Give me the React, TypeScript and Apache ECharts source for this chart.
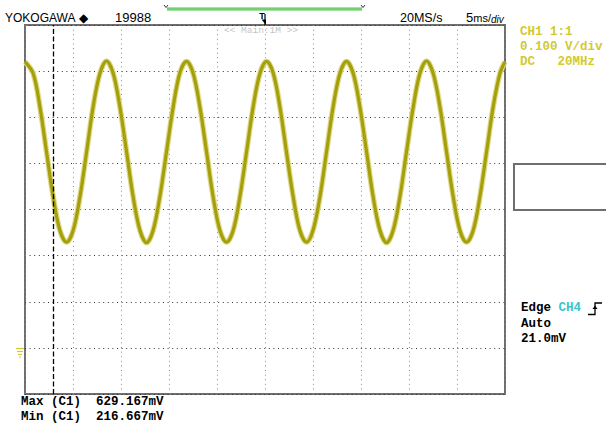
import React, { useEffect, useRef } from "react";
import * as echarts from "echarts";

// Time (ms from left edge of screen) and CH1 voltage (V)
const timeMs = [
  0.0, 0.85, 1.55, 2.24, 2.94, 3.63, 4.33, 5.02, 5.72, 6.41, 7.1, 7.8,
  8.49, 9.19, 9.88, 10.58, 11.27, 11.97, 12.66, 13.35, 14.05, 14.74, 15.44, 16.13,
  16.83, 17.52, 18.22, 18.91, 19.6, 20.3, 20.99, 21.69, 22.38, 23.08, 23.77, 24.47,
  25.16, 25.85, 26.55, 27.24, 27.94, 28.63, 29.33, 30.02, 30.72, 31.41, 32.1, 32.8,
  33.49, 34.19, 34.88, 35.58, 36.27, 36.97, 37.66, 38.35, 39.05, 39.74, 40.44, 41.13,
  41.83, 42.52, 43.22, 43.91, 44.6, 45.3, 45.99, 46.69, 47.38, 48.08, 48.77, 49.47,
  50.0,
];
const ch1Volts = [
  0.62, 0.595, 0.523, 0.425, 0.327, 0.255, 0.229, 0.255, 0.327, 0.424, 0.523, 0.595,
  0.622, 0.595, 0.523, 0.425, 0.327, 0.255, 0.228, 0.255, 0.328, 0.425, 0.523, 0.596,
  0.621, 0.595, 0.522, 0.425, 0.327, 0.255, 0.229, 0.255, 0.327, 0.425, 0.523, 0.595,
  0.621, 0.596, 0.523, 0.424, 0.327, 0.255, 0.229, 0.256, 0.327, 0.425, 0.523, 0.595,
  0.621, 0.595, 0.523, 0.425, 0.327, 0.255, 0.228, 0.255, 0.327, 0.425, 0.522, 0.595,
  0.622, 0.595, 0.523, 0.425, 0.328, 0.255, 0.229, 0.255, 0.327, 0.425, 0.523, 0.595,
  0.62,
];

const TRIGGER_MS = 2.95;
const X_MIN = 0;
const X_MAX = 50;
const X_DIV = 5;
const Y_MIN = -0.1;
const Y_MAX = 0.7;
const Y_DIV = 0.1;

const headerLabels = { brand: "YOKOGAWA", count: "19988", rate: "20MS/s", zoom: "<< Main:1M >>" };
const ch1Labels = ["CH1 1:1", "0.100 V/div", "DC   20MHz"];
const trigLabels = { mode: "Edge ", src: "CH4", auto: "Auto", level: "21.0mV" };
const measLabels = ["Max (C1)  629.167mV", "Min (C1)  216.667mV"];

const MONO = "'Liberation Mono', 'DejaVu Sans Mono', monospace";
const SANS = "'Liberation Sans', Arial, sans-serif";
const YELLOW = "#d2ca2e";
const TRACE = "#a69f0c";

function txt(x: number, y: number, text: string, font: string, fill: string, align = "left") {
  return {
    type: "text",
    x,
    y,
    silent: true,
    style: {
      text,
      font,
      fill,
      align,
      textAlign: align,
      verticalAlign: "middle",
      textVerticalAlign: "middle",
    },
  };
}

export default function App() {
  const ref = useRef<HTMLDivElement>(null);
  useEffect(() => {
    const chart = echarts.init(ref.current!, null, { renderer: "svg" });
    const data = timeMs.map((t, i) => [t, ch1Volts[i]]);
    const monoBold = `bold 12.5px ${MONO}`;
    chart.setOption({
      animation: false,
      backgroundColor: "#ffffff",
      grid: {
        left: 25,
        top: 25,
        width: 480,
        height: 369,
        show: true,
        borderColor: "#6e6e6e",
        borderWidth: 2,
        backgroundColor: "transparent",
      },
      xAxis: {
        type: "value",
        min: X_MIN,
        max: X_MAX,
        interval: X_DIV,
        axisLabel: { show: false },
        axisTick: { show: false },
        axisLine: { show: false },
        splitLine: { show: true, lineStyle: { color: "#8c8c8c", type: [1, 3.6], width: 1 } },
      },
      yAxis: {
        type: "value",
        min: Y_MIN,
        max: Y_MAX,
        interval: Y_DIV,
        axisLabel: { show: false },
        axisTick: { show: false },
        axisLine: { show: false },
        splitLine: { show: true, lineStyle: { color: "#333333", type: [1, 3.6], width: 1 } },
      },
      series: [
        {
          type: "line",
          data,
          smooth: 0.35,
          showSymbol: false,
          symbol: "none",
          lineStyle: { color: "#dcd886", width: 5.5 },
          z: 2,
          markLine: {
            silent: true,
            symbol: "none",
            label: { show: false },
            lineStyle: { color: "#000", type: [5, 2.5], width: 1.3 },
            data: [{ xAxis: TRIGGER_MS }],
          },
        },
        {
          type: "line",
          data,
          smooth: 0.35,
          showSymbol: false,
          symbol: "none",
          lineStyle: { color: TRACE, width: 3.2 },
          z: 3,
        },
      ],
      graphic: [
        txt(5, 17.5, headerLabels.brand, `12px ${SANS}`, "#000"),
        txt(79, 17.5, "◆", `12px 'DejaVu Sans', sans-serif`, "#000"),
        txt(115, 17.5, headerLabels.count, `13px ${SANS}`, "#000"),
        txt(400, 17.5, headerLabels.rate, `12.5px ${SANS}`, "#000"),
        {
          type: "text",
          x: 466,
          y: 17.5,
          silent: true,
          style: {
            text: "{a|5}{b|ms/}{c|div}",
            verticalAlign: "middle",
            textVerticalAlign: "middle",
            rich: {
              a: { font: `13px ${SANS}`, fill: "#000", color: "#000" },
              b: { font: `11px ${SANS}`, fill: "#000", color: "#000" },
              c: { font: `italic 10px ${SANS}`, fill: "#000", color: "#000", padding: [4, 0, 0, 0] },
            },
          },
        },
        // acquisition memory bar
        { type: "rect", silent: true, shape: { x: 167, y: 7, width: 195, height: 4 }, style: { fill: "#9fe49f" } },
        { type: "line", silent: true, shape: { x1: 167, y1: 9, x2: 362, y2: 9 }, style: { stroke: "#4fb54f", lineWidth: 1.2 } },
        { type: "polyline", silent: true, shape: { points: [[164, 5], [166, 7.5], [168, 5]] }, style: { stroke: "#333", lineWidth: 1, fill: "none" } },
        { type: "polyline", silent: true, shape: { points: [[361, 5], [363, 7.5], [365, 5]] }, style: { stroke: "#333", lineWidth: 1, fill: "none" } },
        // trigger position marker
        txt(262, 16, "T", `bold 9px ${SANS}`, "#000", "center"),
        { type: "line", silent: true, shape: { x1: 265, y1: 14, x2: 265, y2: 25 }, style: { stroke: "#000", lineWidth: 1.2 } },
        { type: "polygon", silent: true, shape: { points: [[261.5, 19.5], [266, 19.5], [266, 25]] }, style: { fill: "#000" } },
        txt(261, 30.5, headerLabels.zoom, `9.5px ${MONO}`, "#c4c4c4", "center"),
        // CH1 settings
        txt(520, 32, ch1Labels[0], monoBold, YELLOW),
        txt(520, 47, ch1Labels[1], monoBold, YELLOW),
        txt(520, 62, ch1Labels[2], monoBold, YELLOW),
        // empty box
        { type: "rect", silent: true, shape: { x: 514, y: 164, width: 100, height: 46 }, style: { fill: "none", stroke: "#6e6e6e", lineWidth: 2 } },
        // trigger settings
        {
          type: "text",
          x: 521,
          y: 308,
          silent: true,
          style: {
            text: `{k|${trigLabels.mode}}{c|${trigLabels.src}}`,
            verticalAlign: "middle",
            textVerticalAlign: "middle",
            rich: {
              k: { font: monoBold, fill: "#000", color: "#000" },
              c: { font: monoBold, fill: "#3cc4cc", color: "#3cc4cc" },
            },
          },
        },
        { type: "polyline", silent: true, shape: { points: [[588, 314.5], [595, 314.5], [595, 303], [602, 303]] }, style: { stroke: "#000", lineWidth: 1.3, fill: "none" } },
        { type: "polygon", silent: true, shape: { points: [[592.5, 309], [597.5, 309], [595, 305.5]] }, style: { fill: "#000" } },
        txt(521, 323.5, trigLabels.auto, monoBold, "#000"),
        txt(521, 339, trigLabels.level, monoBold, "#000"),
        // ground marker for CH1
        { type: "line", silent: true, shape: { x1: 16, y1: 348.5, x2: 24, y2: 348.5 }, style: { stroke: YELLOW, lineWidth: 1.2 } },
        { type: "line", silent: true, shape: { x1: 17, y1: 351.5, x2: 23, y2: 351.5 }, style: { stroke: YELLOW, lineWidth: 1.2 } },
        { type: "line", silent: true, shape: { x1: 18, y1: 354.5, x2: 22, y2: 354.5 }, style: { stroke: YELLOW, lineWidth: 1.2 } },
        { type: "line", silent: true, shape: { x1: 19, y1: 357, x2: 21, y2: 357 }, style: { stroke: YELLOW, lineWidth: 1.2 } },
        // measurements
        txt(21, 401.5, measLabels[0], monoBold, "#000"),
        txt(21, 417, measLabels[1], monoBold, "#000"),
      ],
    });
    return () => chart.dispose();
  }, []);
  return (
    <div
      ref={ref}
      style={{ position: "fixed", left: 0, top: 0, width: 606, height: 427, background: "#fff" }}
    />
  );
}
